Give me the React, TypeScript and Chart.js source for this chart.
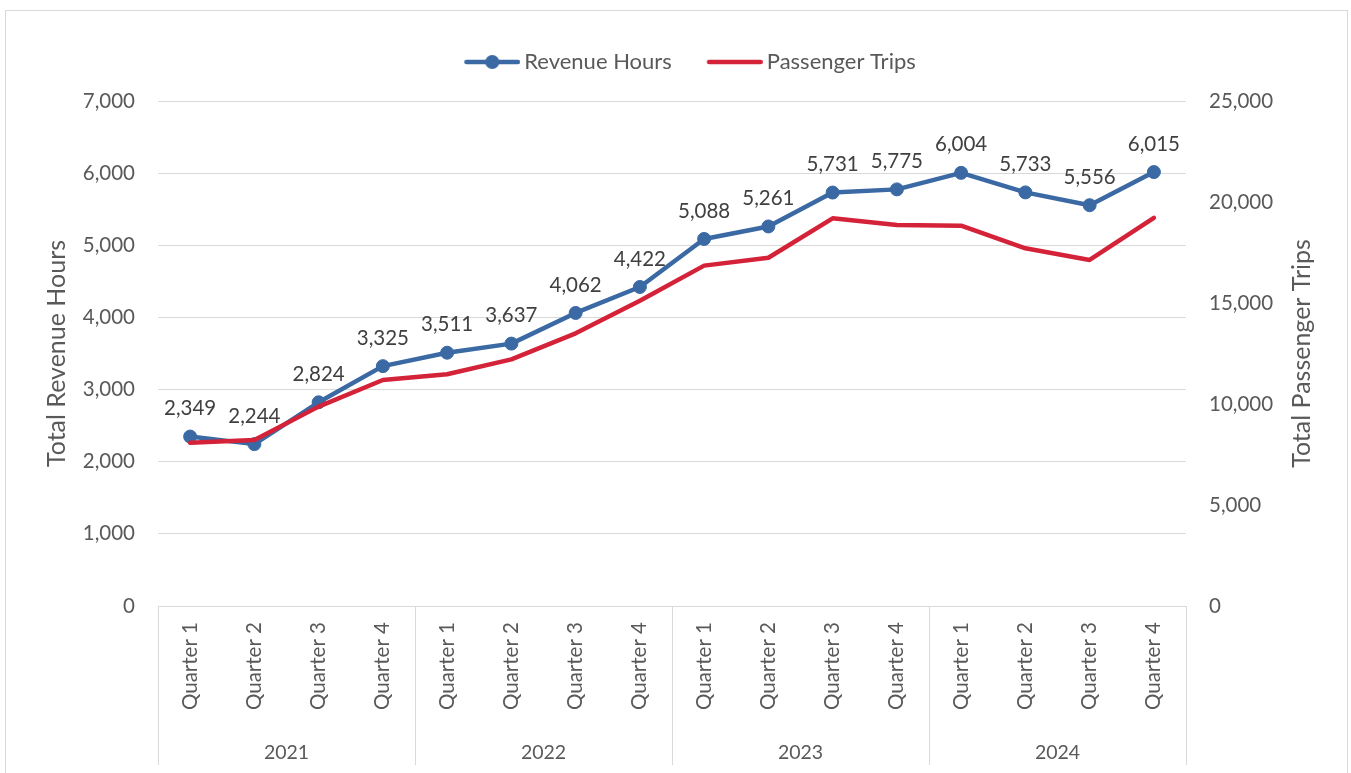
import React, { useEffect, useRef } from 'react';
import { Chart, registerables } from 'chart.js';

Chart.register(...registerables);

const quarters = [
  'Quarter 1', 'Quarter 2', 'Quarter 3', 'Quarter 4',
  'Quarter 1', 'Quarter 2', 'Quarter 3', 'Quarter 4',
  'Quarter 1', 'Quarter 2', 'Quarter 3', 'Quarter 4',
  'Quarter 1', 'Quarter 2', 'Quarter 3', 'Quarter 4',
];
const years = ['2021', '2022', '2023', '2024'];
const revenueHours = [2349, 2244, 2824, 3325, 3511, 3637, 4062, 4422, 5088, 5261, 5731, 5775, 6004, 5733, 5556, 6015];
const passengerTrips = [8080, 8220, 9870, 11190, 11470, 12210, 13500, 15110, 16850, 17240, 19190, 18860, 18830, 17710, 17130, 19220];

const BLUE = '#3A69A4';
const RED = '#D42339';
const TEXT = '#595959';
const GRID = '#d9d9d9';
const FONT = 'Lato';

const fmt = (v: number) => Number(v).toLocaleString('en-US');

function makeLegendImage(color: string, marker: boolean) {
  const c = document.createElement('canvas');
  c.width = 68;
  c.height = 16;
  const g = c.getContext('2d')!;
  g.strokeStyle = color;
  g.lineWidth = 4.5;
  g.lineCap = 'round';
  g.beginPath();
  g.moveTo(14.25, 8);
  g.lineTo(65.75, 8);
  g.stroke();
  if (marker) {
    g.fillStyle = color;
    g.beginPath();
    g.arc(40, 8, 7, 0, Math.PI * 2);
    g.fill();
  }
  return c;
}

const dataLabelPlugin = {
  id: 'dataLabels',
  afterDatasetsDraw(chart: any) {
    const ctx = chart.ctx;
    const meta = chart.getDatasetMeta(0);
    ctx.save();
    ctx.font = `20.5px ${FONT}`;
    ctx.fillStyle = '#404040';
    ctx.textAlign = 'center';
    ctx.textBaseline = 'middle';
    meta.data.forEach((pt: any, i: number) => {
      ctx.fillText(fmt(revenueHours[i]), pt.x, pt.y - 28);
    });
    ctx.restore();
  },
};

const rightTitlePlugin = {
  id: 'rightTitle',
  afterDraw(chart: any) {
    const ctx = chart.ctx;
    const s = chart.scales.y1;
    const cy = (chart.chartArea.top + chart.chartArea.bottom) / 2;
    ctx.save();
    ctx.translate(s.right - 49, cy);
    ctx.rotate(-Math.PI / 2);
    ctx.font = `25px ${FONT}`;
    ctx.fillStyle = TEXT;
    ctx.textAlign = 'center';
    ctx.textBaseline = 'middle';
    ctx.fillText('Total Passenger Trips', 0, 0);
    ctx.restore();
  },
};

export default function App() {
  const ref = useRef<HTMLCanvasElement | null>(null);

  useEffect(() => {
    if (!ref.current) return;
    const imgBlue = makeLegendImage(BLUE, true);
    const imgRed = makeLegendImage(RED, false);
    const chart = new Chart(ref.current, {
      type: 'line',
      data: {
        labels: quarters,
        datasets: [
          {
            label: 'Revenue Hours',
            data: revenueHours,
            borderColor: BLUE,
            backgroundColor: BLUE,
            borderWidth: 4.5,
            pointRadius: 6.5,
            pointBorderWidth: 1,
            pointBackgroundColor: BLUE,
            pointBorderColor: BLUE,
            borderCapStyle: 'round',
            borderJoinStyle: 'round',
            yAxisID: 'y',
            order: 1,
          },
          {
            label: 'Passenger Trips',
            data: passengerTrips,
            borderColor: RED,
            backgroundColor: RED,
            borderWidth: 4.5,
            pointRadius: 0,
            borderCapStyle: 'round',
            borderJoinStyle: 'round',
            yAxisID: 'y1',
            order: 0,
          },
        ],
      },
      options: {
        responsive: false,
        animation: false,
        layout: { padding: { top: 21, left: 24, right: 0, bottom: 0 } },
        plugins: {
          tooltip: { enabled: false },
          legend: {
            display: true,
            position: 'top',
            weight: 3000,
            labels: {
              usePointStyle: true,
              pointStyleWidth: 54,
              padding: 30,
              color: TEXT,
              font: { family: FONT, size: 22 },
              sort: (a: any, b: any) => a.datasetIndex - b.datasetIndex,
              generateLabels: (ch: any) => {
                const base = Chart.defaults.plugins.legend.labels.generateLabels(ch);
                return base.map((it: any) => ({
                  ...it,
                  pointStyle: it.datasetIndex === 0 ? imgBlue : imgRed,
                }));
              },
            },
          } as any,
          title: {
            display: true,
            text: ' ',
            weight: 2000,
            font: { size: 10, lineHeight: 1 },
            padding: { top: 4, bottom: 4 },
          } as any,
        },
        scales: {
          x: {
            type: 'category',
            position: 'bottom',
            weight: 0,
            offset: true,
            grid: {
              display: true,
              offset: true,
              drawOnChartArea: false,
              drawTicks: true,
              tickLength: 112,
              lineWidth: 1,
              color: (c: any) =>
                c.index === undefined || c.index % 4 === 0 ? GRID : 'rgba(0,0,0,0)',
            },
            border: { display: true, color: GRID },
            ticks: {
              autoSkip: false,
              maxRotation: 90,
              minRotation: 90,
              padding: -96,
              color: TEXT,
              font: { family: FONT, size: 20.5 },
            },
            afterFit: (s: any) => {
              s.height = 112;
            },
          },
          x2: {
            type: 'category',
            labels: years,
            position: 'bottom',
            weight: 1,
            offset: true,
            grid: {
              display: true,
              offset: true,
              drawOnChartArea: false,
              drawTicks: true,
              tickLength: 47,
              color: GRID,
            },
            border: { display: false },
            ticks: {
              autoSkip: false,
              maxRotation: 0,
              minRotation: 0,
              padding: -24,
              color: TEXT,
              font: { family: FONT, size: 19.5 },
            },
            afterFit: (s: any) => {
              s.height = 55;
            },
          },
          y: {
            type: 'linear',
            position: 'left',
            min: 0,
            max: 7000,
            ticks: {
              stepSize: 1000,
              padding: 23,
              color: TEXT,
              font: { family: FONT, size: 20.5 },
              callback: (v: any) => fmt(v),
            },
            grid: { color: GRID, drawTicks: false, lineWidth: 1 },
            border: { display: false },
            title: {
              display: true,
              text: 'Total Revenue Hours',
              color: TEXT,
              font: { family: FONT, size: 25 },
              padding: { top: 18, bottom: 0 },
            },
            afterFit: (s: any) => {
              s.width = 134;
            },
          },
          y1: {
            type: 'linear',
            position: 'right',
            min: 0,
            max: 25000,
            ticks: {
              stepSize: 5000,
              padding: 23,
              color: TEXT,
              font: { family: FONT, size: 20.5 },
              callback: (v: any) => fmt(v),
            },
            grid: { display: false, drawTicks: false },
            border: { display: false },
            title: { display: false },
            afterFit: (s: any) => {
              s.width = 165;
            },
          },
        },
      } as any,
      plugins: [dataLabelPlugin, rightTitlePlugin],
    });
    return () => chart.destroy();
  }, []);

  return (
    <div
      style={{
        position: 'absolute',
        left: 0,
        top: 0,
        width: 1351,
        height: 773,
        overflow: 'hidden',
        background: '#ffffff',
      }}
    >
      <div
        style={{
          position: 'absolute',
          left: 5,
          top: 10,
          width: 1343,
          height: 800,
          border: `1px solid ${GRID}`,
          boxSizing: 'border-box',
        }}
      />
      <canvas
        ref={ref}
        width={1351}
        height={773}
        style={{ position: 'absolute', left: 0, top: 0, width: 1351, height: 773 }}
      />
    </div>
  );
}
